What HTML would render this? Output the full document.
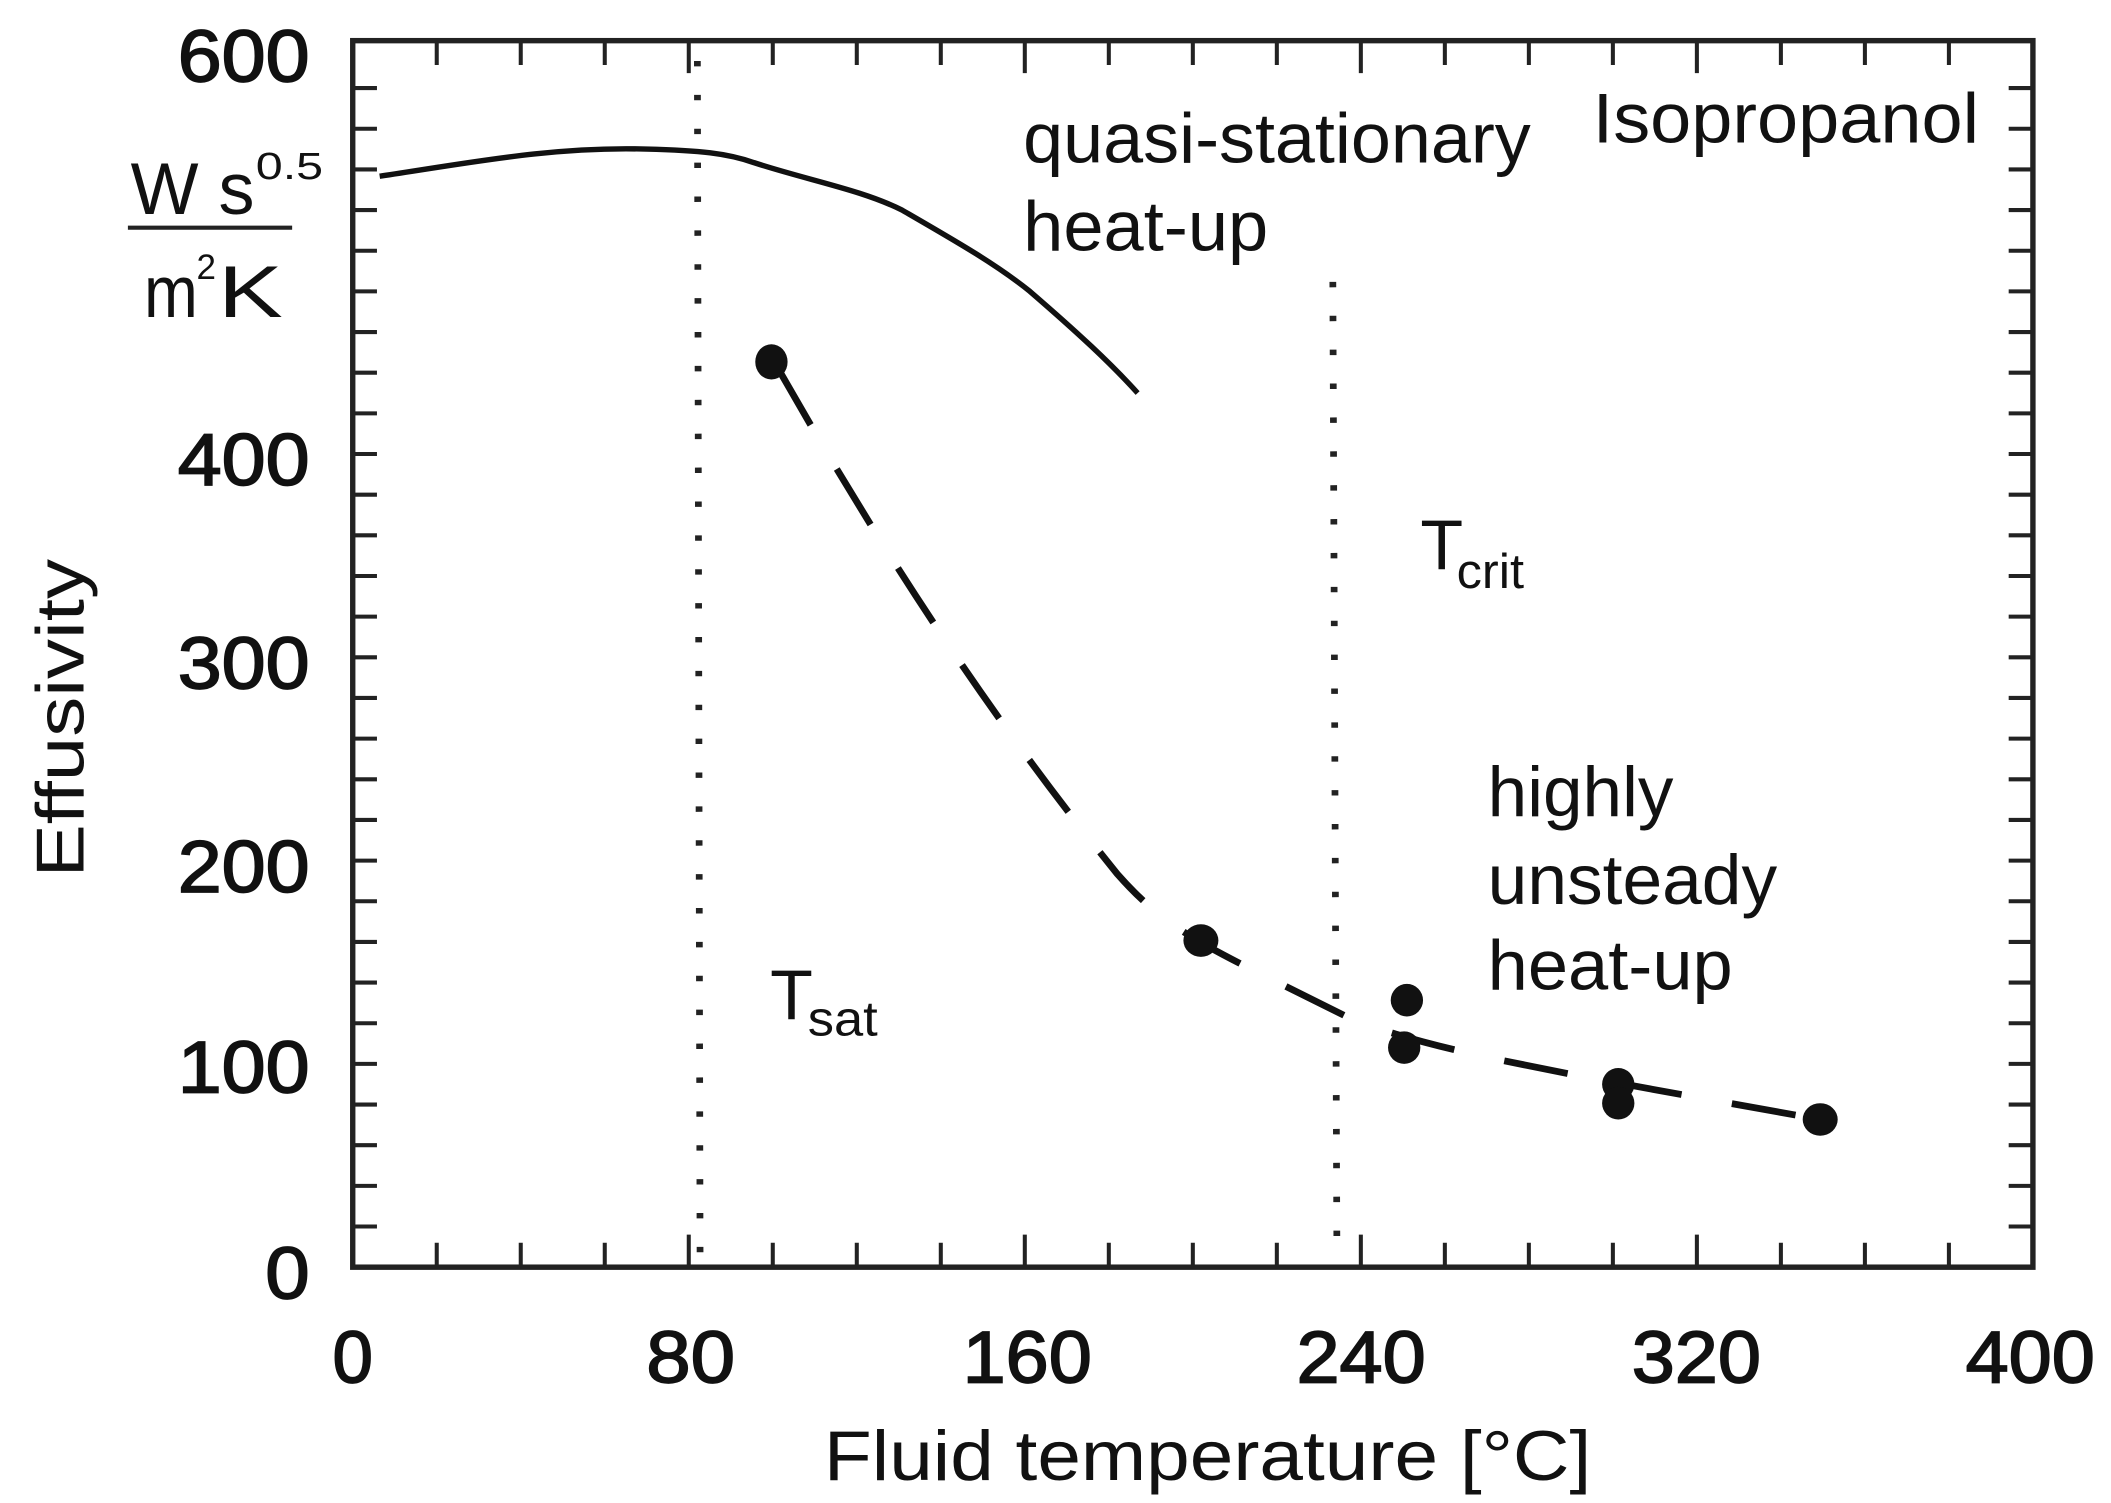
<!DOCTYPE html>
<html><head><meta charset="utf-8"><style>
html,body{margin:0;padding:0;background:#fff;}
svg{display:block;}
text{font-family:"Liberation Sans",sans-serif;fill:#111;}
</style></head><body>
<svg width="2111" height="1503" viewBox="0 0 1568 1109" preserveAspectRatio="none" xmlns="http://www.w3.org/2000/svg">
<rect x="262" y="30" width="1248" height="905" fill="none" stroke="#222" stroke-width="4"/>
<g stroke="#222" stroke-width="3" fill="none">
<path d="M262,905h18m-18,-30h18m-18,-30h18m-18,-30h18m-18,-30h18m-18,-30h18m-18,-30h18m-18,-30h18m-18,-30h18m-18,-30h18m-18,-30h18m-18,-30h18m-18,-30h18m-18,-30h18m-18,-30h18m-18,-30h18m-18,-30h18m-18,-30h18m-18,-30h18m-18,-30h18m-18,-30h18m-18,-30h18m-18,-30h18m-18,-30h18m-18,-30h18m-18,-30h18m-18,-30h18m-18,-30h18m-18,-30h18"/>
<path d="M1510,905h-18m18,-30h-18m18,-30h-18m18,-30h-18m18,-30h-18m18,-30h-18m18,-30h-18m18,-30h-18m18,-30h-18m18,-30h-18m18,-30h-18m18,-30h-18m18,-30h-18m18,-30h-18m18,-30h-18m18,-30h-18m18,-30h-18m18,-30h-18m18,-30h-18m18,-30h-18m18,-30h-18m18,-30h-18m18,-30h-18m18,-30h-18m18,-30h-18m18,-30h-18m18,-30h-18m18,-30h-18m18,-30h-18"/>
<path d="M324.4,935v-18m62.4,18v-18m62.4,18v-18m62.4,18v-24m62.4,24v-18m62.4,18v-18m62.4,18v-18m62.4,18v-24m62.4,24v-18m62.4,18v-18m62.4,18v-18m62.4,18v-24m62.4,24v-18m62.4,18v-18m62.4,18v-18m62.4,18v-24m62.4,24v-18m62.4,18v-18m62.4,18v-18"/>
<path d="M324.4,30v18m62.4,-18v18m62.4,-18v18m62.4,-18v24m62.4,-24v18m62.4,-18v18m62.4,-18v18m62.4,-18v24m62.4,-24v18m62.4,-18v18m62.4,-18v18m62.4,-18v24m62.4,-24v18m62.4,-18v18m62.4,-18v18m62.4,-18v24m62.4,-24v18m62.4,-18v18m62.4,-18v18"/>
</g>
<line x1="518" y1="45" x2="520" y2="930" stroke="#222" stroke-width="5" stroke-dasharray="4,21"/>
<line x1="990" y1="208" x2="993" y2="920" stroke="#222" stroke-width="5" stroke-dasharray="4,21"/>
<path d="M282,130 C350,120 410,108 480,110 C520,111 540,113 560,120 C600,133 640,140 670,155 C710,178 740,195 765,215 C800,245 825,268 845,290" fill="none" stroke="#111" stroke-width="4"/>
<path d="M578,272 C640,380 720,510 830,645 C870,690 900,700 1000,750 C1060,775 1150,790 1352,826" fill="none" stroke="#111" stroke-width="5" stroke-dasharray="48,38"/>
<g fill="#111">
<ellipse cx="573" cy="267" rx="12" ry="13"/>
<ellipse cx="892" cy="694" rx="13" ry="12"/>
<ellipse cx="1045" cy="738" rx="12" ry="12"/>
<ellipse cx="1043" cy="773" rx="12" ry="12"/>
<ellipse cx="1202" cy="800" rx="12" ry="12"/>
<ellipse cx="1202" cy="814" rx="12" ry="12"/>
<ellipse cx="1352" cy="826" rx="13" ry="12"/>
</g>
<g font-size="54" text-anchor="end" stroke="#111" stroke-width="1.2">
<text x="230" y="60" textLength="98" lengthAdjust="spacingAndGlyphs">600</text>
<text x="230" y="358" textLength="98" lengthAdjust="spacingAndGlyphs">400</text>
<text x="230" y="508" textLength="98" lengthAdjust="spacingAndGlyphs">300</text>
<text x="230" y="658" textLength="98" lengthAdjust="spacingAndGlyphs">200</text>
<text x="230" y="806" textLength="98" lengthAdjust="spacingAndGlyphs">100</text>
<text x="230" y="958" textLength="33" lengthAdjust="spacingAndGlyphs">0</text>
</g>
<g font-size="54" text-anchor="middle" stroke="#111" stroke-width="1.2">
<text x="262" y="1020">0</text>
<text x="513" y="1020" textLength="66" lengthAdjust="spacingAndGlyphs">80</text>
<text x="763" y="1020" textLength="96" lengthAdjust="spacingAndGlyphs">160</text>
<text x="1011" y="1020" textLength="96" lengthAdjust="spacingAndGlyphs">240</text>
<text x="1260" y="1020" textLength="96" lengthAdjust="spacingAndGlyphs">320</text>
<text x="1508" y="1020" textLength="96" lengthAdjust="spacingAndGlyphs">400</text>
</g>
<text x="897" y="1092" font-size="52" text-anchor="middle" textLength="570" lengthAdjust="spacingAndGlyphs">Fluid temperature [°C]</text>
<text transform="translate(62,530) rotate(-90)" font-size="50" text-anchor="middle" textLength="235" lengthAdjust="spacingAndGlyphs">Effusivity</text>
<text x="97" y="158" font-size="54" textLength="92" lengthAdjust="spacingAndGlyphs">W s</text>
<text x="190" y="132" font-size="28" textLength="50" lengthAdjust="spacingAndGlyphs">0.5</text>
<line x1="95" y1="168" x2="217" y2="168" stroke="#222" stroke-width="3"/>
<text x="107" y="234" font-size="54" textLength="40" lengthAdjust="spacingAndGlyphs">m</text>
<text x="146" y="206" font-size="26">2</text>
<text x="162" y="234" font-size="54" textLength="48" lengthAdjust="spacingAndGlyphs">K</text>
<g font-size="52">
<text x="760" y="120" textLength="377" lengthAdjust="spacingAndGlyphs">quasi-stationary</text>
<text x="760" y="185" textLength="182" lengthAdjust="spacingAndGlyphs">heat-up</text>
<text x="1183" y="105" textLength="287" lengthAdjust="spacingAndGlyphs">Isopropanol</text>
<text x="1105" y="602" textLength="138" lengthAdjust="spacingAndGlyphs">highly</text>
<text x="1105" y="667" textLength="215" lengthAdjust="spacingAndGlyphs">unsteady</text>
<text x="1105" y="730" textLength="182" lengthAdjust="spacingAndGlyphs">heat-up</text>
<text x="1055" y="420">T</text>
<text x="572" y="752">T</text>
</g>
<text x="1082" y="434" font-size="36" textLength="50" lengthAdjust="spacingAndGlyphs">crit</text>
<text x="600" y="764" font-size="36" textLength="52" lengthAdjust="spacingAndGlyphs">sat</text>
</svg>
</body></html>
